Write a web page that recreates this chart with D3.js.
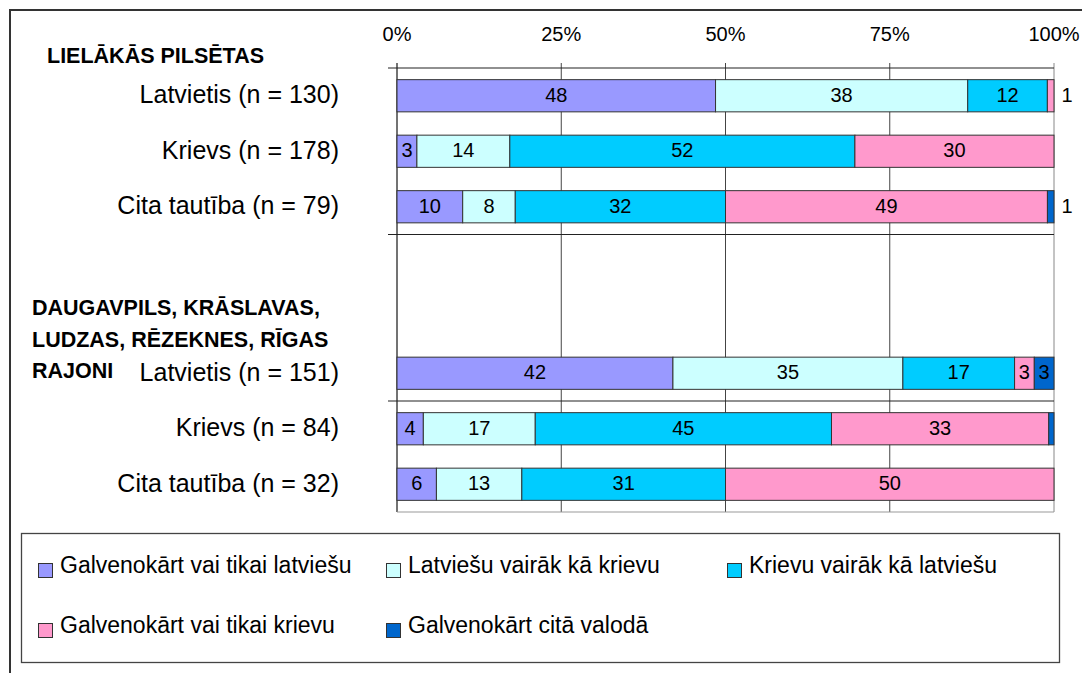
<!DOCTYPE html>
<html>
<head>
  <meta charset="utf-8">
  <title>Valodas lietojums</title>
  <style>
    html, body { margin: 0; padding: 0; background: #fff; }
    svg { display: block; font-family: "Liberation Sans", Arial, sans-serif; }
  </style>
</head>
<body>

<svg width="1082" height="673" viewBox="0 0 1082 673"></svg>

<script src="https://cdn.jsdelivr.net/npm/d3@7"></script>
<script>
// rows, top to bottom (two blank rows separate the groups)
const rowLabels = [
  'Latvietis (n = 130)', 'Krievs (n = 178)', 'Cita tautība (n = 79)',
  '', '',
  'Latvietis (n = 151)', 'Krievs (n = 84)', 'Cita tautība (n = 32)'
];

const seriesNames = [
  'Galvenokārt vai tikai latviešu',
  'Latviešu vairāk kā krievu',
  'Krievu vairāk kā latviešu',
  'Galvenokārt vai tikai krievu',
  'Galvenokārt citā valodā'
];
const seriesColors = ['#9999ff', '#ccffff', '#00ccff', '#ff99cc', '#0066cc'];

const galvLatviesu   = [48,  3, 10, 0, 0, 42,  4,  6];
const latvVairak     = [38, 14,  8, 0, 0, 35, 17, 13];
const krievuVairak   = [12, 52, 32, 0, 0, 17, 45, 31];
const galvKrievu     = [ 1, 30, 49, 0, 0,  3, 33, 50];
const galvCita       = [ 0,  0,  1, 0, 0,  3, 0.8, 0];

const percentTicks = [0, 0.25, 0.5, 0.75, 1];
const groupTitles = [
  { lines: ['LIELĀKĀS PILSĒTAS'], x: 47, y: 63 },
  { lines: ['DAUGAVPILS, KRĀSLAVAS,', 'LUDZAS, RĒZEKNES, RĪGAS', 'RAJONI'], x: 32, y: 315 }
];
const groupBreaks = [0, 3, 6];

const seriesValues = [galvLatviesu, latvVairak, krievuVairak, galvKrievu, galvCita];

const svg = d3.select('svg');

// frame of the whole chart
svg.append('path')
  .attr('d', 'M10,673V10H1082')
  .attr('fill', 'none')
  .attr('stroke', '#333')
  .attr('stroke-width', 2);

const plotLeft = 397, plotRight = 1054, plotTop = 68, plotBottom = 512;

const rows = rowLabels.map((label, i) => {
  const r = { idx: i, label };
  seriesNames.forEach((s, k) => (r[s] = seriesValues[k][i]));
  return r;
});

const x = d3.scaleLinear().domain([0, 1]).range([plotLeft, plotRight]);
const y = d3.scaleBand()
  .domain(rows.map(d => d.idx))
  .range([plotTop, plotBottom])
  .paddingInner(0.42)
  .paddingOuter(0.21);

const stacked = d3.stack()
  .keys(seriesNames)
  .offset(d3.stackOffsetExpand)(rows);

// vertical grid + ticks above the top line
svg.selectAll('.grid').data(percentTicks).join('line')
  .attr('class', 'grid')
  .attr('x1', d => x(d)).attr('x2', d => x(d))
  .attr('y1', plotTop - 5).attr('y2', plotBottom)
  .attr('stroke', d => d === 1 ? '#888' : '#444')
  .attr('stroke-width', d => d === 0 ? 1.5 : 1);

svg.selectAll('.ptick').data(percentTicks).join('text')
  .attr('class', 'ptick')
  .attr('x', d => x(d))
  .attr('y', 41)
  .attr('text-anchor', 'middle')
  .attr('font-size', '20px')
  .attr('fill', '#000')
  .text(d3.format('.0%'));

// horizontal lines at the group breaks
svg.selectAll('.brk').data(groupBreaks).join('line')
  .attr('class', 'brk')
  .attr('x1', plotLeft - 9).attr('x2', plotRight)
  .attr('y1', d => plotTop + d * y.step()).attr('y2', d => plotTop + d * y.step())
  .attr('stroke', '#222')
  .attr('stroke-width', 1.2);

svg.append('line')
  .attr('x1', plotLeft).attr('x2', plotRight)
  .attr('y1', plotBottom).attr('y2', plotBottom)
  .attr('stroke', '#999');

// bars
const layers = svg.selectAll('.layer').data(stacked).join('g')
  .attr('class', 'layer')
  .attr('fill', (d, i) => seriesColors[i]);

layers.selectAll('rect').data(d => d.filter(p => p[1] - p[0] > 0)).join('rect')
  .attr('x', d => x(d[0]))
  .attr('y', d => y(d.data.idx))
  .attr('width', d => x(d[1]) - x(d[0]))
  .attr('height', y.bandwidth())
  .attr('stroke', '#333')
  .attr('stroke-width', 1);

// value labels (tiny segments get their label right of the bar)
const labels = [];
stacked.forEach(layer => {
  layer.forEach(p => {
    const v = p.data[layer.key];
    if (v >= 1) labels.push({ v, x0: p[0], x1: p[1], idx: p.data.idx });
  });
});

svg.selectAll('.val').data(labels).join('text')
  .attr('class', 'val')
  .attr('x', d => d.v < 2 ? plotRight + 13 : (x(d.x0) + x(d.x1)) / 2)
  .attr('y', d => y(d.idx) + y.bandwidth() / 2)
  .attr('dy', '0.3em')
  .attr('text-anchor', 'middle')
  .attr('font-size', '20px')
  .attr('fill', '#000')
  .text(d => d.v);

// row labels
svg.selectAll('.rowlab').data(rows.filter(d => d.label)).join('text')
  .attr('class', 'rowlab')
  .attr('x', 339)
  .attr('y', d => y(d.idx) + y.bandwidth() / 2)
  .attr('dy', '0.3em')
  .attr('text-anchor', 'end')
  .attr('font-size', '25px')
  .attr('fill', '#000')
  .text(d => d.label);

// group titles
groupTitles.forEach(g => {
  svg.append('g').selectAll('text').data(g.lines).join('text')
    .attr('x', g.x)
    .attr('y', (d, i) => g.y + i * 31.5)
    .attr('font-size', '21.5px')
    .attr('font-weight', 'bold')
    .attr('fill', '#000')
    .text(d => d);
});

// legend
svg.append('rect')
  .attr('x', 21.5).attr('y', 533.5)
  .attr('width', 1038).attr('height', 129)
  .attr('fill', '#fff')
  .attr('stroke', '#444')
  .attr('stroke-width', 1.3);

const legendCols = [38, 386, 727];
const legendRows = [563, 623];
const leg = svg.selectAll('.key').data(seriesNames).join('g')
  .attr('class', 'key')
  .attr('transform', (d, i) => `translate(${legendCols[i % 3]},${legendRows[Math.floor(i / 3)]})`);
leg.append('rect')
  .attr('x', 0.5).attr('y', 0.5)
  .attr('width', 14).attr('height', 14)
  .attr('fill', (d, i) => seriesColors[i])
  .attr('stroke', '#333');
leg.append('text')
  .attr('x', 22)
  .attr('y', 10)
  .attr('font-size', '23px')
  .attr('fill', '#000')
  .text(d => d);
</script>

</body>
</html>
